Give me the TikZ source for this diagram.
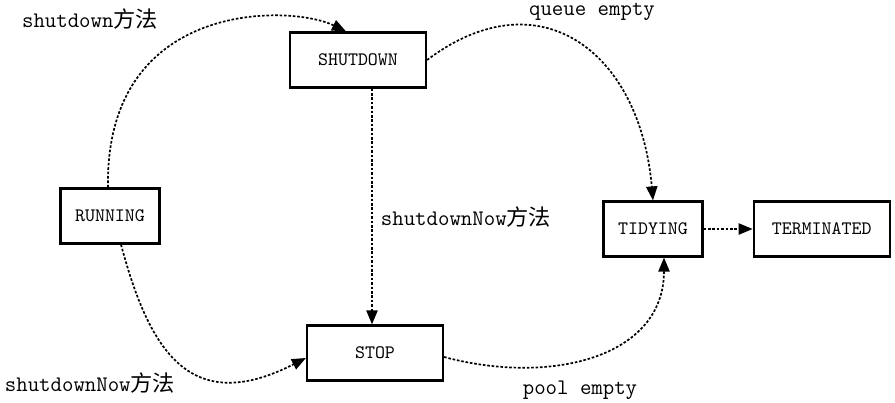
\documentclass[tikz,border=0pt]{standalone}
\usepackage{fontspec}
\newfontfamily\cjk{Noto Sans CJK SC}
\usetikzlibrary{arrows.meta, positioning}

\begin{document}
\begin{tikzpicture}[
    x=0.5pt, y=0.5pt,
    blk/.style={rectangle, draw=black, line width=1.1pt, font=\ttfamily\fontsize{9.5}{11}\selectfont, minimum height=27.5pt, minimum width=49.5pt, inner sep=0pt},
    wide/.style={blk, minimum width=68pt},
    lab/.style={font=\ttfamily\fontsize{11.1}{13}\selectfont, inner sep=0pt},
    e/.style={-{Triangle[length=7pt, width=5.6pt]}, line width=0.85pt, dash pattern=on 1.3pt off 0.9pt},
]
    \useasboundingbox (0,0) rectangle (895,-402);
    \node[wide] (sd) at (358,-60) {SHUTDOWN};
    \node[blk] (run) at (110,-216) {RUNNING};
    \node[wide] (stop) at (375,-353) {STOP};
    \node[blk] (tidy) at (653,-229) {TIDYING};
    \node[wide, right=24.5pt of tidy] (term) {TERMINATED};
    \node[lab] (lsd) at (90,-19) {shutdown{\cjk 方法}};
    \node[lab] (lqueue) at (592,-12) {queue empty};
    \node[lab] (lnow) at (466,-217) {shutdownNow{\cjk 方法}};
    \node[lab] (lrun) at (90,-383) {shutdownNow{\cjk 方法}};
    \node[lab] (lpool) at (580,-390) {pool empty};
    \draw[e] ([xshift=-1pt]run.north) to[out=91, in=154, out distance=94pt, in distance=31pt] ([xshift=-6pt]sd.north);
    \draw[e] (sd.east) to[out=37, in=95, out distance=70pt, in distance=75pt] (tidy.north);
    \draw[e] ([xshift=7pt]sd.south) -- ([xshift=7pt]sd.south |- stop.north);
    \draw[e] ([xshift=5.5pt]run.south) to[out=-75, in=207, out distance=55pt, in distance=65pt] ([yshift=-2.5pt]stop.west);
    \draw[e] ([yshift=-2pt]stop.east) to[out=-15, in=-90, out distance=55pt, in distance=50pt] ([xshift=5.5pt]tidy.south);
    \draw[e] (tidy) -- (term);
\end{tikzpicture}
\end{document}
